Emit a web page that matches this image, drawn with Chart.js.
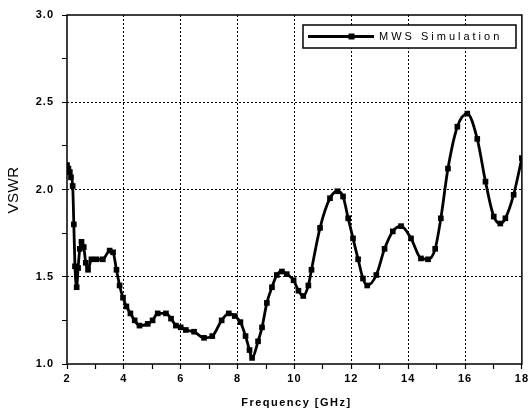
<!DOCTYPE html>
<html>
<head>
<meta charset="utf-8">
<script src="https://cdn.jsdelivr.net/npm/chart.js@4.4.1/dist/chart.umd.min.js"></script>
<style>
  html, body { margin: 0; padding: 0; background: #ffffff; }
  #wrap { width: 531px; height: 415px; }
</style>
</head>
<body>
<div id="wrap"><canvas id="c" width="531" height="415"></canvas></div>
<script>
// Simulated VSWR versus frequency
const freqGHz = [
  2.00, 2.05, 2.10, 2.14, 2.20, 2.24, 2.28, 2.34, 2.39, 2.45, 2.51, 2.59, 2.66, 2.74, 2.86,
  3.04, 3.26, 3.50, 3.62, 3.74, 3.85, 3.97, 4.09, 4.23, 4.38, 4.55, 4.84, 5.01, 5.19, 5.48,
  5.66, 5.83, 6.00, 6.18, 6.47, 6.82, 7.11, 7.44, 7.69, 7.90, 8.10, 8.28, 8.42, 8.51, 8.72,
  8.86, 9.03, 9.21, 9.38, 9.56, 9.73, 9.97, 10.14, 10.31, 10.49, 10.60, 10.90, 11.25, 11.51,
  11.71, 11.89, 12.06, 12.24, 12.41, 12.56, 12.88, 13.17, 13.46, 13.75, 14.10, 14.45, 14.70,
  14.95, 15.15, 15.40, 15.73, 16.08, 16.43, 16.72, 17.01, 17.24, 17.42, 17.71, 18.00
];
const vswr = [
  2.14, 2.12, 2.10, 2.07, 2.02, 1.80, 1.56, 1.44, 1.55, 1.66, 1.70, 1.67, 1.58, 1.54, 1.60,
  1.60, 1.60, 1.65, 1.64, 1.54, 1.45, 1.38, 1.33, 1.29, 1.25, 1.22, 1.23, 1.25, 1.29, 1.29,
  1.26, 1.22, 1.21, 1.195, 1.185, 1.15, 1.16, 1.25, 1.29, 1.275, 1.24, 1.16, 1.08, 1.035, 1.13,
  1.21, 1.35, 1.44, 1.51, 1.53, 1.515, 1.48, 1.42, 1.39, 1.45, 1.54, 1.78, 1.95, 1.99,
  1.96, 1.835, 1.72, 1.60, 1.49, 1.45, 1.51, 1.66, 1.76, 1.79, 1.72, 1.605, 1.60,
  1.66, 1.835, 2.12, 2.36, 2.435, 2.29, 2.045, 1.845, 1.805, 1.835, 1.97, 2.18
];
const seriesLabel = 'MWS Simulation';
const xTickLabels = [2, 4, 6, 8, 10, 12, 14, 16, 18];
const yTickLabels = [1.0, 1.5, 2.0, 2.5, 3.0];
const xTitle = 'Frequency [GHz]';
const yTitle = 'VSWR';

const points = freqGHz.map((f, i) => ({ x: f, y: vswr[i] }));
const FONT = "'Liberation Sans', Arial, sans-serif";

const near = (v, list) => list.some(t => Math.abs(t - v) < 1e-6);

// Outer frame, axis titles and boxed legend
const decorations = {
  id: 'decorations',
  beforeDraw(chart) {
    const ctx = chart.ctx;
    ctx.save();
    ctx.fillStyle = '#ffffff';
    ctx.fillRect(0, 0, chart.width, chart.height);
    ctx.restore();
    ctx.letterSpacing = '1px';
  },
  afterDraw(chart) {
    const ctx = chart.ctx;
    const a = chart.chartArea;
    ctx.save();
    ctx.letterSpacing = '0px';
    ctx.strokeStyle = '#000';
    ctx.lineWidth = 1.5;
    ctx.strokeRect(a.left, a.top, a.right - a.left, a.bottom - a.top);

    // x title
    ctx.fillStyle = '#000';
    ctx.font = 'bold 11px ' + FONT;
    ctx.letterSpacing = '1.5px';
    ctx.textAlign = 'center';
    ctx.textBaseline = 'middle';
    ctx.fillText(xTitle, (a.left + a.right) / 2 + 2, 403);

    // y title
    ctx.save();
    ctx.letterSpacing = '0.5px';
    ctx.font = '15px ' + FONT;
    ctx.translate(14, 190);
    ctx.rotate(-Math.PI / 2);
    ctx.fillText(yTitle, 0, 0);
    ctx.restore();

    // legend
    const bx = 303, by = 25, bw = 213, bh = 23;
    ctx.fillStyle = '#fff';
    ctx.fillRect(bx, by, bw, bh);
    ctx.strokeStyle = '#000';
    ctx.lineWidth = 1.5;
    ctx.strokeRect(bx, by, bw, bh);
    const ly = by + bh / 2;
    ctx.lineWidth = 2.8;
    ctx.beginPath();
    ctx.moveTo(bx + 5, ly);
    ctx.lineTo(bx + 71, ly);
    ctx.stroke();
    ctx.fillStyle = '#000';
    ctx.fillRect(bx + 45.5, ly - 3, 6, 6);
    ctx.font = '11px ' + FONT;
    ctx.letterSpacing = '3px';
    ctx.textAlign = 'left';
    ctx.fillText(seriesLabel, bx + 76, ly + 0.5);
    ctx.restore();
  }
};

new Chart(document.getElementById('c'), {
  type: 'line',
  data: {
    datasets: [{
      label: seriesLabel,
      data: points,
      borderColor: '#000',
      backgroundColor: '#000',
      borderWidth: 2.8,
      pointStyle: 'rect',
      pointRadius: 4,
      pointBorderWidth: 0,
      cubicInterpolationMode: 'monotone',
      fill: false
    }]
  },
  options: {
    responsive: false,
    animation: false,
    events: [],
    layout: { padding: { left: 0, right: 6, top: 15, bottom: 0 } },
    plugins: { legend: { display: false }, tooltip: { enabled: false } },
    scales: {
      x: {
        type: 'linear',
        min: 2, max: 18,
        afterFit(scale) { scale.height = 51; },
        ticks: {
          stepSize: 1,
          autoSkip: false,
          maxRotation: 0,
          padding: 3,
          color: '#000',
          font: { family: FONT, size: 11, weight: 'bold' },
          callback: v => near(v, xTickLabels) ? String(v) : ''
        },
        grid: {
          color: c => (c.tick && near(c.tick.value, xTickLabels) && c.tick.value > 2 && c.tick.value < 18) ? '#000' : 'rgba(0,0,0,0)',
          lineWidth: 1,
          tickColor: '#000',
          tickLength: 5,
          tickWidth: 1.2,
          tickBorderDash: [1, 0]
        },
        border: { display: false, dash: [2, 2] }
      },
      y: {
        min: 1, max: 3,
        afterFit(scale) { scale.width = 67; },
        ticks: {
          stepSize: 0.25,
          autoSkip: false,
          padding: 8,
          color: '#000',
          font: { family: FONT, size: 11, weight: 'bold' },
          callback: v => near(v, yTickLabels) ? v.toFixed(1) : ''
        },
        grid: {
          color: c => (c.tick && near(c.tick.value, yTickLabels) && c.tick.value > 1 && c.tick.value < 3) ? '#000' : 'rgba(0,0,0,0)',
          lineWidth: 1,
          tickColor: '#000',
          tickLength: 5,
          tickWidth: 1.2,
          tickBorderDash: [1, 0]
        },
        border: { display: false, dash: [2, 2] }
      }
    }
  },
  plugins: [decorations]
});
</script>
</body>
</html>
